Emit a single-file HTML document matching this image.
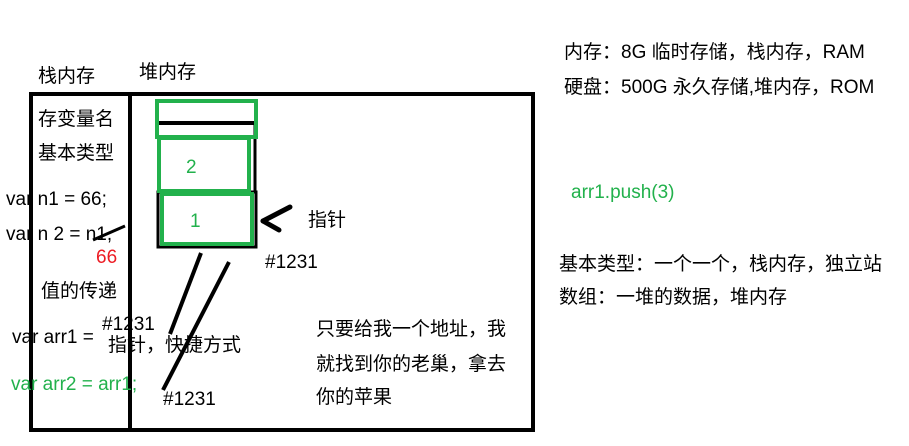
<!DOCTYPE html>
<html><head><meta charset="utf-8"><style>
body{margin:0;width:909px;height:446px;background:#fff;position:relative;overflow:hidden;font-family:"Liberation Sans","Noto Sans CJK SC",sans-serif;font-size:19px;color:#000}
.t{position:absolute;white-space:nowrap;line-height:24px}
.g{color:#22b14c}.r{color:#ed1c24}
svg{position:absolute;left:0;top:0}
</style></head><body>
<svg width="909" height="446">
<rect x="31" y="94" width="502" height="336" fill="none" stroke="#000" stroke-width="4"/>
<line x1="130" y1="94" x2="130" y2="430" stroke="#000" stroke-width="4"/>
<line x1="158" y1="123" x2="255" y2="123" stroke="#000" stroke-width="4"/>
<line x1="255" y1="123" x2="255" y2="192" stroke="#000" stroke-width="3"/>
<rect x="158" y="192" width="98" height="55" fill="none" stroke="#000" stroke-width="3"/>
<rect x="157" y="101" width="99" height="36" fill="none" stroke="#22b14c" stroke-width="4"/>
<rect x="159" y="138" width="90" height="53" fill="none" stroke="#22b14c" stroke-width="4"/>
<rect x="162" y="194" width="90" height="50" fill="none" stroke="#22b14c" stroke-width="4"/>
<line x1="201" y1="253" x2="170" y2="334" stroke="#000" stroke-width="4"/>
<line x1="229" y1="262" x2="163" y2="390" stroke="#000" stroke-width="4"/>
<line x1="290" y1="207" x2="263" y2="221" stroke="#000" stroke-width="5" stroke-linecap="round"/>
<line x1="263" y1="221" x2="279" y2="230" stroke="#000" stroke-width="5" stroke-linecap="round"/>
<line x1="93" y1="240" x2="125" y2="226" stroke="#000" stroke-width="3"/>
</svg>
<div class="t" style="left:38px;top:65px">栈内存</div>
<div class="t" style="left:139px;top:61px">堆内存</div>
<div class="t" style="left:38px;top:108px">存变量名</div>
<div class="t" style="left:38px;top:142px">基本类型</div>
<div class="t" style="left:6px;top:188px">var n1 = 66;</div>
<div class="t" style="left:6px;top:223px">var n 2 = n1,</div>
<div class="t r" style="left:96px;top:246px">66</div>
<div class="t" style="left:41px;top:280px">值的传递</div>
<div class="t" style="left:102px;top:313px">#1231</div>
<div class="t" style="left:12px;top:326px">var arr1 =</div>
<div class="t" style="left:108px;top:334px">指针，快捷方式</div>
<div class="t g" style="left:11px;top:373px">var arr2 = arr1;</div>
<div class="t" style="left:163px;top:388px">#1231</div>
<div class="t" style="left:265px;top:251px">#1231</div>
<div class="t" style="left:308px;top:209px">指针</div>
<div class="t g" style="left:186px;top:156px">2</div>
<div class="t g" style="left:190px;top:210px">1</div>
<div class="t" style="left:316px;top:318px">只要给我一个地址，我</div>
<div class="t" style="left:316px;top:353px">就找到你的老巢，拿去</div>
<div class="t" style="left:316px;top:386px">你的苹果</div>
<div class="t" style="left:564px;top:41px">内存：8G 临时存储，栈内存，RAM</div>
<div class="t" style="left:564px;top:76px">硬盘：500G 永久存储,堆内存，ROM</div>
<div class="t g" style="left:571px;top:181px">arr1.push(3)</div>
<div class="t" style="left:559px;top:253px">基本类型：一个一个，栈内存，独立站</div>
<div class="t" style="left:559px;top:286px">数组：一堆的数据，堆内存</div>
</body></html>
